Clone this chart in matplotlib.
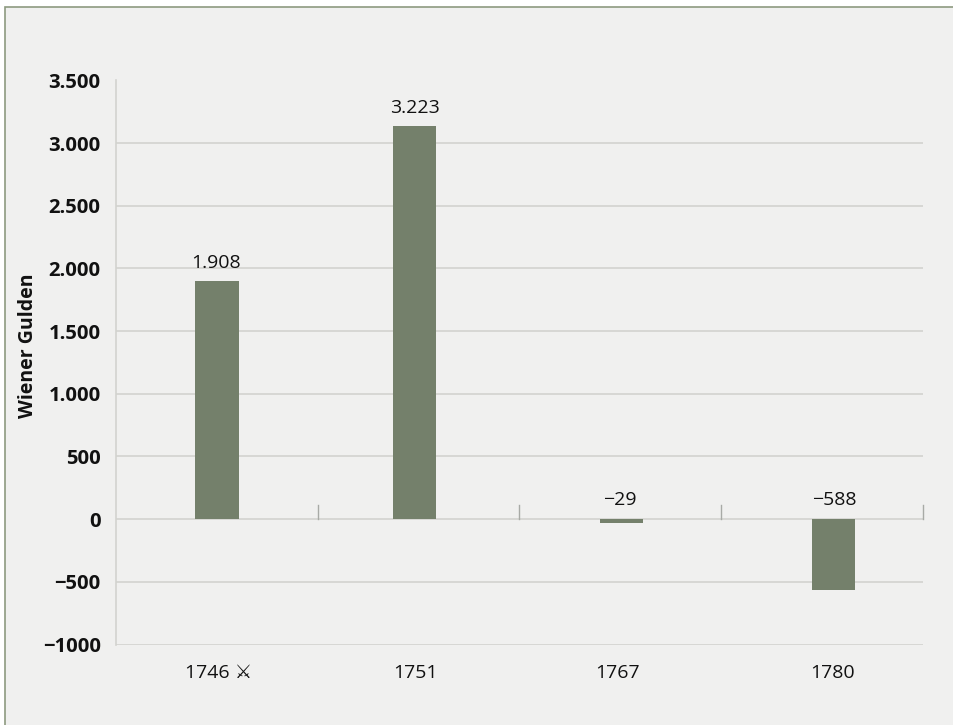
import matplotlib
matplotlib.use("Agg")
from matplotlib import pyplot as plt
from matplotlib.patches import Rectangle

years = ["1746 \u2694", "1751", "1767", "1780"]
bar_heights = [1898, 3134, -29, -562]
bar_labels = ["1.908", "3.223", "\u221229", "\u2212588"]
y_ticks = [3500, 3000, 2500, 2000, 1500, 1000, 500, 0, -500, -1000]
y_tick_labels = ["3.500", "3.000", "2.500", "2.000", "1.500", "1.000", "500", "0", "\u2212500", "\u22121000"]

W, H = 954, 725
BG = "#f0f0ef"
GRID = "#d2d3cf"
BAR = "#74806b"
plt.rcParams["font.family"] = ["Open Sans", "DejaVu Sans"]

# the original does not centre things exactly in their slots
bar_shift = [0.0, -0.02, 0.005, 0.056]
label_shift = [-0.005, -0.02, -0.005, 0.06]
year_shift = [0.01, -0.015, -0.015, 0.05]

fig = plt.figure(figsize=(W / 100, H / 100), dpi=100, facecolor="white")
# panel with the thin green border, kept behind the axes
fig.add_artist(Rectangle((5.5 / W, -0.01), 1, 1.01 - 6.5 / H, transform=fig.transFigure,
                         facecolor=BG, edgecolor="#8d9a80", linewidth=1.2, zorder=-1))

ax = fig.add_axes([116 / W, 1 - 644.5 / H, (923 - 116) / W, (644.5 - 80.5) / H])
ax.patch.set_alpha(0)
x = list(range(len(years)))
ax.set_xlim(-0.5, 3.5)
ax.set_ylim(-1000, 3500)

for t in y_ticks:
    ax.axhline(t, color=GRID, lw=1.2, zorder=1)
ax.bar([i + s for i, s in zip(x, bar_shift)], bar_heights, width=0.215, color=BAR, zorder=3)

for s in ax.spines.values():
    s.set_visible(False)
ax.spines["left"].set_visible(True)
ax.spines["left"].set_color(GRID)
ax.spines["left"].set_linewidth(1.2)

# separators standing on the zero line
for b in [0.5, 1.5, 2.5, 3.5]:
    ax.plot([b, b], [0, 110], color="#a8aaa6", lw=1, zorder=2, clip_on=False)

ax.set_yticks(y_ticks)
ax.set_yticklabels(y_tick_labels, fontsize=14.6, fontweight="bold", color="#111111")
ax.tick_params(axis="y", length=0, pad=11)
ax.set_xticks([i + s for i, s in zip(x, year_shift)])
ax.set_xticklabels(years, fontsize=14, color="#111111")
ax.tick_params(axis="x", length=0, pad=14)

for i, (h, lab) in enumerate(zip(bar_heights, bar_labels)):
    ax.annotate(lab, (i + label_shift[i], max(h, 0)), xytext=(0, 7), textcoords="offset points",
                ha="center", va="bottom", fontsize=14, color="#111111")

fig.text(28 / W, 1 - 346 / H, "Wiener Gulden", rotation=90, ha="center", va="center",
         fontsize=14, fontweight="bold", color="#111111")

fig.savefig("out.png", dpi=100, facecolor="white")
